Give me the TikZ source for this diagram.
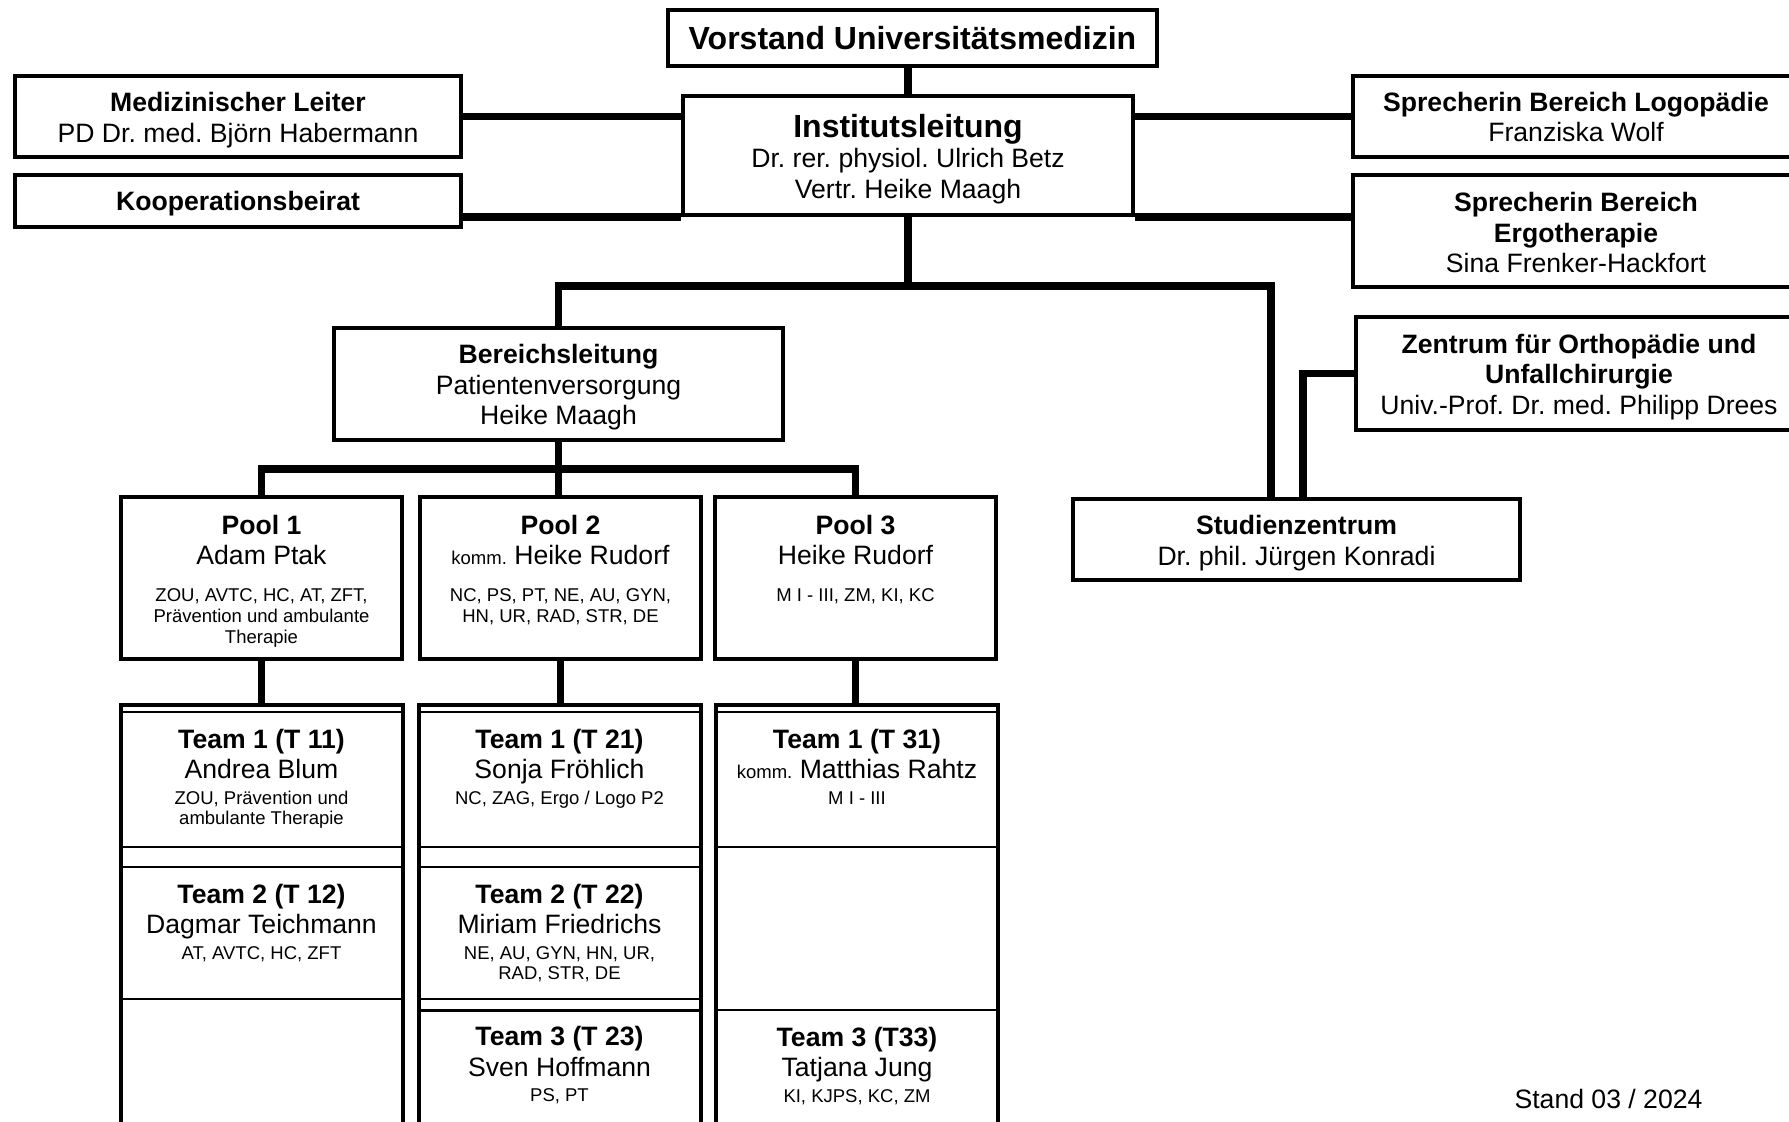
\documentclass[tikz,border=0pt]{standalone}
\usepackage{fontspec}
\setmainfont{Liberation Sans}
\usetikzlibrary{positioning}
\frenchspacing
\newcommand\orgnormal{\fontsize{13.3}{15.25}\selectfont}
\newcommand\orgsmall{\fontsize{9.25}{10}\selectfont}
\newcommand\orgbig{\fontsize{16}{15.25}\selectfont\bfseries}

\begin{document}
\begin{tikzpicture}[x=0.5pt, y=-0.5pt,
    box/.style={draw, line width=2pt, inner sep=0pt, align=center, font=\orgnormal},
    sidebox/.style={box, minimum width=223pt},
    poolbox/.style={box, minimum width=140.5pt, minimum height=81pt},
    column/.style={draw, line width=2pt, inner sep=0pt, minimum width=141pt, minimum height=220pt},
    teambox/.style={draw, line width=1pt, inner sep=0pt, minimum width=141pt},
    txt/.style={inner sep=0pt, outer sep=0pt, align=center, font=\orgnormal},
    boxtxt/.style={txt, yshift=-1.75pt},
    link/.style={line width=3.6pt}]
    \useasboundingbox (0,0) rectangle (1789,1121);
    \clip (0,0) rectangle (1789,1121);

    % top level
    \node[box, minimum width=244.5pt, minimum height=28pt] (vorstand) at (912.5,38) {\orgbig Vorstand Universitätsmedizin};
    \node[box, minimum width=225pt, minimum height=59.5pt] (inst) at (908,155.5) {};
    \node[boxtxt] (insttxt) at (inst) {{\orgbig Institutsleitung}\\ Dr. rer. physiol. Ulrich Betz\\ Vertr. Heike Maagh};

    % side boxes
    \node[sidebox, minimum height=40.5pt] (medleiter) at (238,116.5) {};
    \node[boxtxt] (medleitertxt) at (medleiter) {{\bfseries Medizinischer Leiter}\\ PD Dr. med. Björn Habermann};
    \node[sidebox, minimum height=26pt] (koop) at (238,200.5) {};
    \node[boxtxt] (kooptxt) at (koop) {\bfseries Kooperationsbeirat};
    \node[sidebox, minimum height=40.5pt] (logo) at (1576,116.5) {};
    \node[txt, yshift=-0.25pt] (logotxt) at (logo) {{\bfseries Sprecherin Bereich Logopädie}\\ Franziska Wolf};
    \node[sidebox, minimum height=56pt] (ergo) at (1576,231) {};
    \node[txt, yshift=-0.75pt] (ergotxt) at (ergo) {{\bfseries Sprecherin Bereich}\\ {\bfseries Ergotherapie}\\ Sina Frenker-Hackfort};
    \node[sidebox, minimum height=56.5pt] (zentrum) at (1579,373.5) {};
    \node[boxtxt] (zentrumtxt) at (zentrum) {{\bfseries Zentrum für Orthopädie und}\\ {\bfseries Unfallchirurgie}\\ Univ.-Prof. Dr. med. Philipp Drees};

    % second level
    \node[box, minimum width=224.5pt, minimum height=56pt] (bereich) at (558.5,384) {};
    \node[boxtxt] (bereichtxt) at (bereich) {{\bfseries Bereichsleitung}\\ Patientenversorgung\\ Heike Maagh};
    \node[box, minimum width=223.5pt, minimum height=40.5pt] (studien) at (1296.5,539.5) {};
    \node[boxtxt] (studientxt) at (studien) {{\bfseries Studienzentrum}\\ Dr. phil. Jürgen Konradi};

    % pools
    \node[poolbox] (pool1) at (261.5,578) {};
    \node[poolbox] (pool2) at (560.5,578) {};
    \node[poolbox] (pool3) at (855.5,578) {};
    \node[txt, below=10pt of pool1.north] (pool1txt) {{\bfseries Pool 1}\\ Adam Ptak\\[3.25pt] {\orgsmall ZOU, AVTC, HC, AT, ZFT,}\\[-4.75pt] {\orgsmall Prävention und ambulante}\\[-4.75pt] {\orgsmall Therapie}};
    \node[txt, below=10pt of pool2.north] (pool2txt) {{\bfseries Pool 2}\\ {\orgsmall komm.} Heike Rudorf\\[3.25pt] {\orgsmall NC, PS, PT, NE, AU, GYN,}\\[-4.75pt] {\orgsmall HN, UR, RAD, STR, DE}};
    \node[txt, below=10pt of pool3.north] (pool3txt) {{\bfseries Pool 3}\\ Heike Rudorf\\[3.25pt] {\orgsmall M I - III, ZM, KI, KC}};

    % team columns
    \node[column] (col1) at (261.5,925) {};
    \node[column] (col2) at (559.5,925) {};
    \node[column] (col3) at (857,925) {};

    \node[teambox, minimum height=67.5pt] (t11) at (261.5,779.5) {};
    \node[teambox, minimum height=66pt] (t12) at (261.5,933) {};
    \node[teambox, minimum height=67.5pt] (t21) at (559.5,779.5) {};
    \node[teambox, minimum height=66pt] (t22) at (559.5,933) {};
    \node[teambox, line width=1.5pt, minimum height=65pt] (t23) at (559.5,1075) {};
    \node[teambox, minimum height=67.5pt] (t31) at (857,779.5) {};
    \node[teambox, minimum height=65pt] (t33) at (857,1075) {};

    \node[txt, below=9pt of t11.north] (t11txt) {{\bfseries Team 1 (T 11)}\\ Andrea Blum\\[-2.5pt] {\orgsmall ZOU, Prävention und}\\[-5pt] {\orgsmall ambulante Therapie}};
    \node[txt, below=9pt of t12.north] (t12txt) {{\bfseries Team 2 (T 12)}\\ Dagmar Teichmann\\[-2.5pt] {\orgsmall AT, AVTC, HC, ZFT}};
    \node[txt, below=9pt of t21.north] (t21txt) {{\bfseries Team 1 (T 21)}\\ Sonja Fröhlich\\[-2.5pt] {\orgsmall NC, ZAG, Ergo / Logo P2}};
    \node[txt, below=9pt of t22.north] (t22txt) {{\bfseries Team 2 (T 22)}\\ Miriam Friedrichs\\[-2.5pt] {\orgsmall NE, AU, GYN, HN, UR,}\\[-5pt] {\orgsmall RAD, STR, DE}};
    \node[txt, below=9pt of t23.north] (t23txt) {{\bfseries Team 3 (T 23)}\\ Sven Hoffmann\\[-2.5pt] {\orgsmall PS, PT}};
    \node[txt, below=9pt of t31.north] (t31txt) {{\bfseries Team 1 (T 31)}\\ {\orgsmall komm.} Matthias Rahtz\\[-2.5pt] {\orgsmall M I - III}};
    \node[txt, below=9pt of t33.north] (t33txt) {{\bfseries Team 3 (T33)}\\ Tatjana Jung\\[-2.5pt] {\orgsmall KI, KJPS, KC, ZM}};

    \node[txt, anchor=base] (stand) at (1608.5,1108) {Stand 03 / 2024};

    % connectors
    \coordinate[below=34.5pt of inst.south] (fork);
    \coordinate[below=13.5pt of bereich.south] (poolbus);
    \draw[link] (inst.north) -- (inst.north |- vorstand.south);
    \draw[link] (medleiter.east) -- (medleiter.east -| inst.west);
    \draw[link] (koop.east |- inst.south) -- (inst.south west);
    \draw[link] (inst.east |- logo.west) -- (logo.west);
    \draw[link] (inst.south east) -- (inst.south east -| ergo.west);
    \draw[link] (inst.south) -- (fork) -| (bereich.north);
    \draw[link] (fork) -| ([xshift=-12.75pt]studien.north);
    \draw[link] ([xshift=3.25pt]studien.north) |- (zentrum.west);
    \draw[link] (bereich.south) -- (bereich.south |- pool2.north);
    \draw[link] (pool1.north) |- (poolbus) -| (pool3.north);
    \draw[link] (pool1.south) -- (pool1.south |- col1.north);
    \draw[link] (pool2.south) -- (pool2.south |- col2.north);
    \draw[link] (pool3.south) -- (pool3.south |- col3.north);
\end{tikzpicture}
\end{document}
